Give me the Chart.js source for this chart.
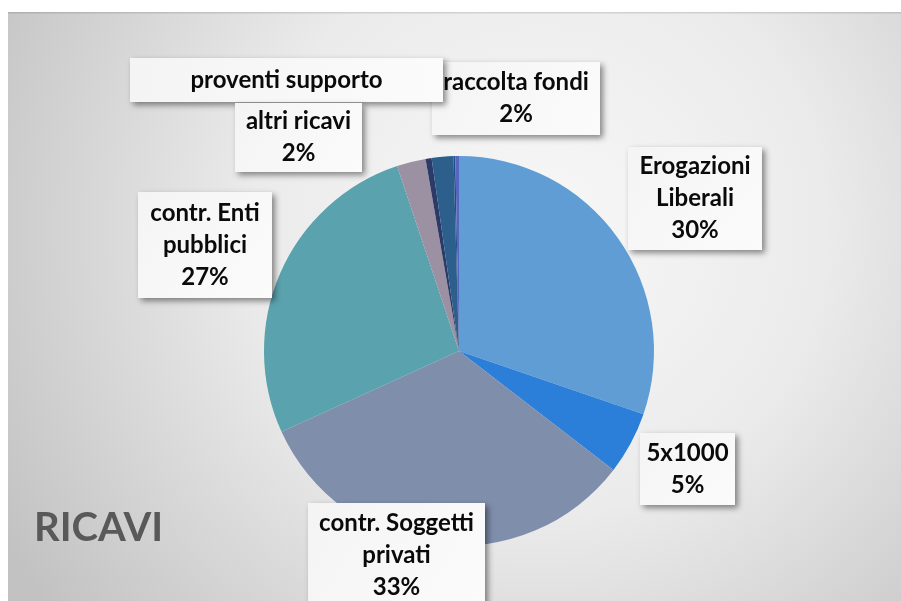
<!DOCTYPE html>
<html>
<head>
<meta charset="utf-8">
<script src="https://cdn.jsdelivr.net/npm/chart.js@4/dist/chart.umd.min.js"></script>
<style>
html,body{margin:0;padding:0;background:#fff;}
#wrap{width:901px;height:601px;position:relative;}
</style>
</head>
<body>
<div id="wrap"><canvas id="c" width="901" height="601"></canvas></div>
<script>
// ---- data ----
const chartTitle = 'RICAVI';
const categories = ['Erogazioni Liberali', '5x1000', 'contr. Soggetti privati', 'contr. Enti pubblici', 'altri ricavi', 'proventi supporto', 'raccolta fondi', '', ''];
const values = [30.3, 5.2, 32.8, 26.7, 2.4, 0.5, 1.8, 0.15, 0.3];
const showPercent = [true, true, true, true, true, false, true, false, false];

// ---- styles / layout ----
const colors = ['#5f9dd4', '#2b7fd8', '#7f8eab', '#5aa2ae', '#9b91a3', '#2c3a68', '#2d5f8c', '#1f4f86', '#5466bd'];
// label boxes relative to pie centre (px): dx, dy, w, h, line break after word index
const labelBoxes = [
  {i:0, dx:169, dy:-204, w:134, h:103, br:[0]},
  {i:1, dx:181, dy:82, w:95, h:72, br:[]},
  {i:2, dx:-151, dy:152, w:177, h:104, br:[1]},
  {i:3, dx:-321, dy:-159, w:134, h:106, br:[1]},
  {i:6, dx:-27, dy:-289, w:168, h:73, br:[]},
  {i:5, dx:-329, dy:-293, w:313, h:44, br:[]},
  {i:4, dx:-224, dy:-248, w:127, h:69, br:[]}
];
const FONT = '700 24px Lato, "Open Sans", sans-serif';

const bgPlugin = {
  id: 'bg',
  beforeDraw(chart) {
    const ctx = chart.ctx;
    ctx.save();
    ctx.fillStyle = '#ffffff';
    ctx.fillRect(0, 0, 901, 601);
    const g = ctx.createRadialGradient(540, 230, 10, 540, 230, 620);
    g.addColorStop(0, '#f7f7f7');
    g.addColorStop(0.45, '#ebebeb');
    g.addColorStop(1, '#c2c2c2');
    ctx.fillStyle = g;
    ctx.fillRect(8, 12, 893, 589);
    ctx.fillStyle = 'rgba(0,0,0,0.12)';
    ctx.fillRect(8, 12, 893, 1.5);
    ctx.restore();
  }
};

const labelPlugin = {
  id: 'labels',
  afterDraw(chart) {
    const ctx = chart.ctx;
    const arc = chart.getDatasetMeta(0).data[0];
    const cx = arc.x, cy = arc.y;
    const total = values.reduce((a, b) => a + b, 0);
    ctx.save();
    labelBoxes.forEach(b => {
      const x = cx + b.dx, y = cy + b.dy;
      ctx.save();
      ctx.shadowColor = 'rgba(0,0,0,0.45)';
      ctx.shadowBlur = 6;
      ctx.shadowOffsetX = 3;
      ctx.shadowOffsetY = 3;
      const g = ctx.createLinearGradient(x, y, x + b.w, y + b.h);
      g.addColorStop(0, '#f4f4f4');
      g.addColorStop(1, '#fbfbfb');
      ctx.fillStyle = g;
      ctx.fillRect(x, y, b.w, b.h);
      ctx.restore();
      const words = categories[b.i].split(' ');
      const lines = [];
      let cur = [];
      words.forEach((w, k) => { cur.push(w); if (b.br.includes(k)) { lines.push(cur.join(' ')); cur = []; } });
      if (cur.length) lines.push(cur.join(' '));
      if (showPercent[b.i]) lines.push(Math.round(values[b.i] / total * 100) + '%');
      const lh = 32;
      const startY = y + b.h / 2 - (lines.length - 1) * lh / 2;
      ctx.fillStyle = '#0a0a0a';
      ctx.font = FONT;
      ctx.textAlign = 'center';
      ctx.textBaseline = 'middle';
      lines.forEach((t, k) => ctx.fillText(t, x + b.w / 2, startY + k * lh));
    });
    ctx.fillStyle = '#595959';
    ctx.font = '700 40px Lato, "Open Sans", sans-serif';
    ctx.textAlign = 'left';
    ctx.textBaseline = 'middle';
    ctx.fillText(chartTitle, 34, 528);
    ctx.restore();
  }
};

new Chart(document.getElementById('c'), {
  type: 'pie',
  data: {
    labels: categories,
    datasets: [{ data: values, backgroundColor: colors, borderWidth: 0 }]
  },
  options: {
    responsive: false,
    animation: false,
    layout: { padding: { left: 264, right: 247, top: 156, bottom: 55 } },
    plugins: { legend: { display: false }, tooltip: { enabled: false } }
  },
  plugins: [bgPlugin, labelPlugin]
});
</script>
</body>
</html>
